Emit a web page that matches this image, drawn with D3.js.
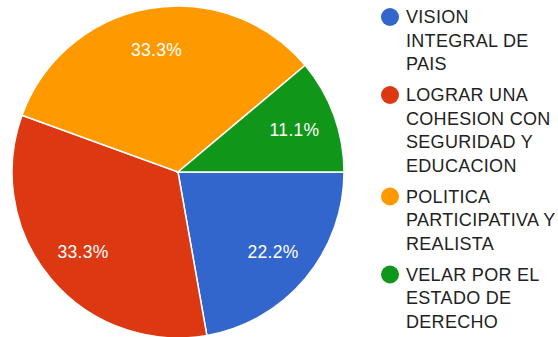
<!DOCTYPE html>
<html>
<head>
<meta charset="utf-8">
<script src="https://cdn.jsdelivr.net/npm/d3@7"></script>
<style>
  html, body { margin: 0; padding: 0; background: #fff; }
  svg { display: block; }
  text { font-family: "Liberation Sans", Arial, sans-serif; }
</style>
</head>
<body>
<svg id="chart" width="558" height="337"></svg>
<script>
// Answer categories, each label split into its legend lines
const categories = [
  ["VISION", "INTEGRAL DE", "PAIS"],
  ["LOGRAR UNA", "COHESION CON", "SEGURIDAD Y", "EDUCACION"],
  ["POLITICA", "PARTICIPATIVA Y", "REALISTA"],
  ["VELAR POR EL", "ESTADO DE", "DERECHO"]
];
// Response shares (percent)
const values = [22.2, 33.3, 33.3, 11.1];
const colors = ["#3366cc", "#dc3912", "#ff9900", "#109618"];

const svg = d3.select("#chart");
const cx = 178, cy = 172, radius = 166;

const pie = d3.pie()
  .value(d => d)
  .sort(null)
  .startAngle(Math.PI / 2)
  .endAngle(Math.PI / 2 + 2 * Math.PI);

const arcs = pie(values);
const arc = d3.arc().innerRadius(0).outerRadius(radius);
const labelArc = d3.arc().innerRadius(124).outerRadius(124);

const g = svg.append("g").attr("transform", `translate(${cx},${cy})`);

g.selectAll("path.slice")
  .data(arcs)
  .join("path")
  .attr("class", "slice")
  .attr("d", arc)
  .attr("fill", (d, i) => colors[i])
  .attr("stroke", "#fff")
  .attr("stroke-width", 1.5);

g.selectAll("text.pct")
  .data(arcs)
  .join("text")
  .attr("class", "pct")
  .attr("transform", d => `translate(${labelArc.centroid(d)})`)
  .attr("text-anchor", "middle")
  .attr("dominant-baseline", "central")
  .attr("fill", "#fff")
  .attr("font-size", 17.5)
  .attr("letter-spacing", 0.3)
  .text(d => d.data.toFixed(1) + "%");

// Legend on the right
const lineH = 23.5, groupGap = 7.5;
const legend = svg.append("g").attr("transform", "translate(390,17)");
let y = 0;
categories.forEach((lines, i) => {
  const item = legend.append("g").attr("transform", `translate(0,${y})`);
  item.append("circle").attr("r", 9).attr("fill", colors[i]);
  item.selectAll("text")
    .data(lines)
    .join("text")
    .attr("x", 16)
    .attr("y", (d, j) => j * lineH)
    .attr("dominant-baseline", "central")
    .attr("fill", "#222")
    .attr("font-size", 18)
    .attr("letter-spacing", 0.3)
    .text(d => d);
  y += lines.length * lineH + groupGap;
});
</script>
</body>
</html>
